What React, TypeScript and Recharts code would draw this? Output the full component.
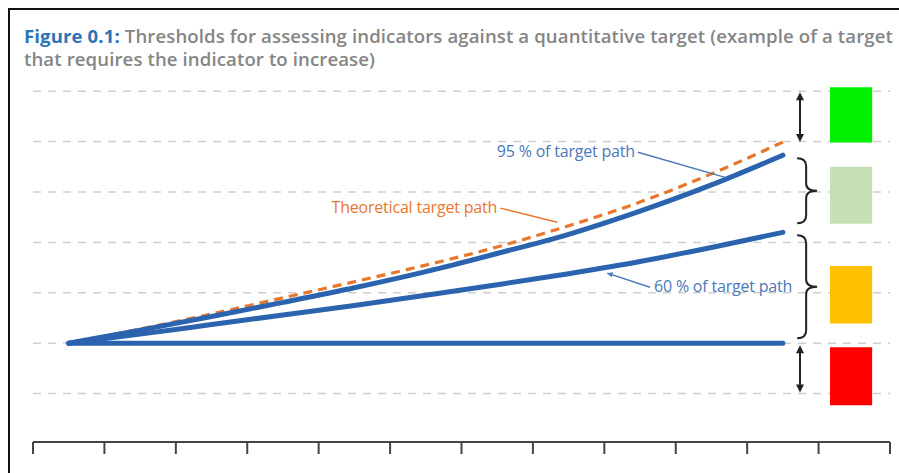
import React from 'react';
import { ComposedChart, Line, XAxis, YAxis, ReferenceLine, ReferenceArea, CartesianGrid } from 'recharts';

// time steps along the path (axis runs 0..12)
const steps = [0.5, 1.5, 2.5, 3.5, 4.5, 5.5, 6.5, 7.5, 8.5, 9.5, 10.5];
const targetPath = [0, 0.28, 0.58, 0.9, 1.22, 1.55, 1.91, 2.33, 2.8, 3.36, 3.99];
const path95 = [0, 0.26, 0.53, 0.81, 1.1, 1.42, 1.78, 2.16, 2.62, 3.14, 3.73];
const path60 = [0, 0.18, 0.37, 0.56, 0.75, 0.95, 1.16, 1.38, 1.62, 1.9, 2.2];
const noChange = [0, 0, 0, 0, 0, 0, 0, 0, 0, 0, 0];

const xTicks = [0, 1, 2, 3, 4, 5, 6, 7, 8, 9, 10, 11, 12];
const gridLevels = [-1, 0, 1, 2, 3, 4, 5];

// traffic-light boxes on the right
const bandTops = [5.08, 3.5, 1.53, -0.08];
const bandBottoms = [3.98, 2.37, 0.39, -1.23];
const bandColors = ['#00f000', '#c5e0b4', '#ffc000', '#ff0000'];

const BLUE = '#2b63ae';
const ORANGE = '#e8772e';
const LABEL_BLUE = '#4a78b8';
const FONT = '"Open Sans", sans-serif';

const data = steps.map((x, i) => ({
  x,
  target: targetPath[i],
  p95: path95[i],
  p60: path60[i],
  flat: noChange[i],
}));

function DoubleArrow(p: any) {
  const { x1, y1, y2 } = p;
  const top = Math.min(y1, y2);
  const bot = Math.max(y1, y2);
  return (
    <g>
      <line x1={x1} y1={top + 4} x2={x1} y2={bot - 4} stroke="#222" strokeWidth={2} />
      <path d={`M${x1 - 4},${top + 8} L${x1},${top} L${x1 + 4},${top + 8}Z`} fill="#222" />
      <path d={`M${x1 - 4},${bot - 8} L${x1},${bot} L${x1 + 4},${bot - 8}Z`} fill="#222" />
    </g>
  );
}

function Brace(p: any) {
  const { x1, y1, y2 } = p;
  const top = Math.min(y1, y2);
  const bot = Math.max(y1, y2);
  const mid = (top + bot) / 2;
  const s = x1 + 9;
  const t = x1 + 20;
  const d =
    `M${x1},${top} Q${s},${top} ${s},${top + 8} L${s},${mid - 7} Q${s},${mid} ${t},${mid} ` +
    `Q${s},${mid} ${s},${mid + 7} L${s},${bot - 8} Q${s},${bot} ${x1},${bot}`;
  return <path d={d} fill="none" stroke="#222" strokeWidth={2} />;
}

function leader(label: string, color: string, textSide: 'left' | 'right', arrow = false) {
  return (p: any) => {
    const { x1, y1, x2, y2 } = p;
    const ang = Math.atan2(y2 - y1, x2 - x1);
    const ah = 6;
    const head = `M${x2},${y2} L${x2 - ah * Math.cos(ang - 0.45)},${y2 - ah * Math.sin(ang - 0.45)} L${
      x2 - ah * Math.cos(ang + 0.45)
    },${y2 - ah * Math.sin(ang + 0.45)}Z`;
    return (
      <g>
        <line x1={x1} y1={y1} x2={x2} y2={y2} stroke={color} strokeWidth={1.5} />
        {arrow && <path d={head} fill={color} />}
        <text
          x={textSide === 'left' ? x1 - 3 : x1 + 4}
          y={y1 + 5}
          textAnchor={textSide === 'left' ? 'end' : 'start'}
          fontFamily={FONT}
          fontSize={16}
          letterSpacing={-0.2}
          fill={color}
        >
          {label}
        </text>
      </g>
    );
  };
}

export default function App() {
  return (
    <div style={{ position: 'absolute', left: 0, top: 0, width: 899, height: 473, background: '#fff', overflow: 'hidden' }}>
      <div
        style={{
          position: 'absolute',
          left: 8,
          top: 8,
          width: 900,
          height: 480,
          borderLeft: '2px solid #111',
          borderTop: '2px solid #111',
        }}
      />
      <div style={{ position: 'absolute', left: 0, top: 0 }}>
        <ComposedChart width={899} height={473} data={data} margin={{ top: 66, right: 9, bottom: 6, left: 33 }}>
          <CartesianGrid
            vertical={false}
            horizontalValues={gridLevels}
            stroke="#cfcfcf"
            strokeWidth={1.5}
            strokeDasharray="8 7"
          />
          <XAxis
            dataKey="x"
            type="number"
            domain={[0, 12]}
            ticks={xTicks}
            tickFormatter={() => ''}
            axisLine={{ stroke: '#444', strokeWidth: 2 }}
            tickLine={{ stroke: '#444', strokeWidth: 2 }}
            tickSize={12}
            height={25}
          />
          <YAxis hide type="number" domain={[-1.96, 5.5]} allowDataOverflow />
          {bandColors.map((c, i) => (
            <ReferenceArea
              key={c}
              x1={11.16}
              x2={11.75}
              y1={bandBottoms[i]}
              y2={bandTops[i]}
              fill={c}
              fillOpacity={1}
              stroke="none"
            />
          ))}
          <Line
            dataKey="target"
            type="monotone"
            stroke={ORANGE}
            strokeWidth={3.2}
            strokeDasharray="9 6"
            dot={false}
            isAnimationActive={false}
          />
          <Line dataKey="flat" type="monotone" stroke={BLUE} strokeWidth={5} strokeLinecap="round" dot={false} isAnimationActive={false} />
          <Line dataKey="p60" type="monotone" stroke={BLUE} strokeWidth={5} strokeLinecap="round" dot={false} isAnimationActive={false} />
          <Line dataKey="p95" type="monotone" stroke={BLUE} strokeWidth={5} strokeLinecap="round" dot={false} isAnimationActive={false} />
          <ReferenceLine segment={[{ x: 10.74, y: 4.98 }, { x: 10.74, y: 3.99 }]} shape={DoubleArrow} />
          <ReferenceLine segment={[{ x: 10.74, y: -0.04 }, { x: 10.74, y: -0.98 }]} shape={DoubleArrow} />
          <ReferenceLine segment={[{ x: 10.7, y: 3.67 }, { x: 10.7, y: 2.38 }]} shape={Brace} />
          <ReferenceLine segment={[{ x: 10.7, y: 2.14 }, { x: 10.7, y: 0.1 }]} shape={Brace} />
          <ReferenceLine
            segment={[{ x: 8.47, y: 3.79 }, { x: 9.69, y: 3.29 }]}
            shape={leader('95 % of target path', LABEL_BLUE, 'left')}
          />
          <ReferenceLine
            segment={[{ x: 6.54, y: 2.68 }, { x: 7.34, y: 2.4 }]}
            shape={leader('Theoretical target path', ORANGE, 'left')}
          />
          <ReferenceLine
            segment={[{ x: 8.64, y: 1.11 }, { x: 8.04, y: 1.39 }]}
            shape={leader('60 % of target path', LABEL_BLUE, 'right', true)}
          />
        </ComposedChart>
      </div>
      <div
        style={{
          position: 'absolute',
          left: 24,
          top: 24,
          width: 880,
          fontFamily: FONT,
          fontSize: 18.6,
          lineHeight: '23px',
          fontWeight: 600,
          letterSpacing: 0.1,
          color: '#858585',
          whiteSpace: 'nowrap',
        }}
      >
        <div>
          <span style={{ color: '#2e74b5', fontWeight: 700 }}>Figure 0.1:</span> Thresholds for assessing indicators
          against a quantitative target (example of a target
        </div>
        <div>that requires the indicator to increase)</div>
      </div>
    </div>
  );
}
